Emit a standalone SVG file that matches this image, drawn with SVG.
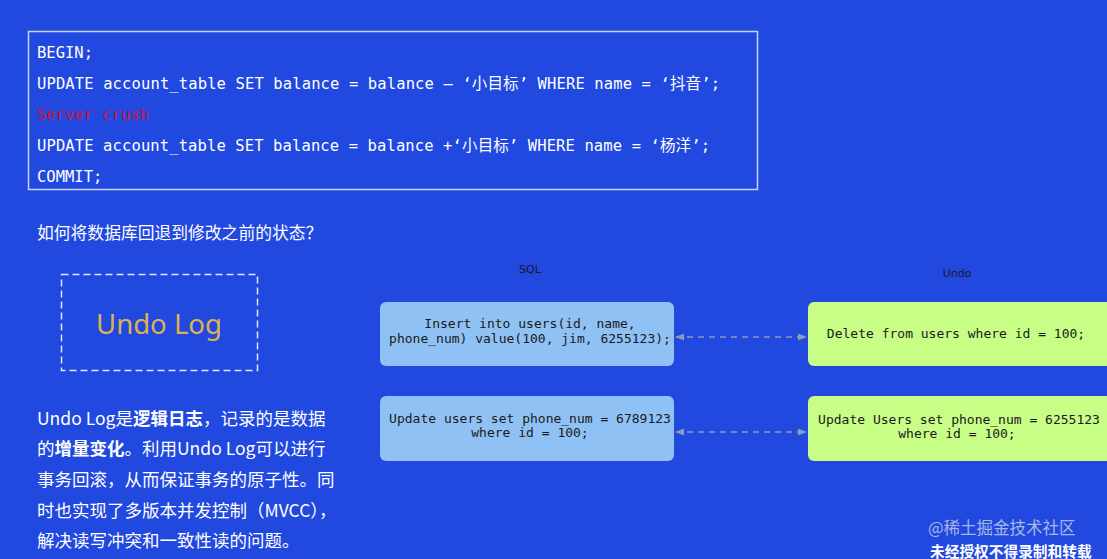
<svg xmlns="http://www.w3.org/2000/svg" width="1107" height="559" viewBox="0 0 1107 559">
<style>
.code{font-family:"DejaVu Sans Mono","Liberation Mono","Noto Sans CJK SC",monospace;font-size:15.5px;fill:#ffffff}
.cjk{font-family:"Noto Sans CJK SC","Noto Sans",sans-serif;fill:#ffffff}
.box{font-family:"DejaVu Sans Mono","Liberation Mono",monospace;font-size:13px;fill:#1a1a1a;text-anchor:middle}
.lbl{font-family:"DejaVu Sans","Liberation Sans",sans-serif;font-size:11px;fill:#1a1a1a;text-anchor:middle}
.sql{fill:#8fc1f4}
.undo{fill:#c8fd86}
.conn{stroke:#8e9ab8;stroke-width:1.3;stroke-dasharray:6,5;fill:none}
</style>
<defs>
<marker id="ah" viewBox="0 0 10 10" refX="9" refY="5" markerWidth="7" markerHeight="7" orient="auto-start-reverse">
<path d="M0,1 L10,5 L0,9 z" fill="#8e9ab8"/>
</marker>
</defs>
<rect x="0" y="0" width="1107" height="559" fill="#2149e0"/>

<g id="code-block">
<rect x="28.5" y="31.5" width="729" height="158" fill="none" stroke="#c9d4f2" stroke-width="1.5"/>
<text class="code" x="37" y="58">BEGIN;</text>
<text class="code" x="37" y="89" textLength="683" lengthAdjust="spacing">UPDATE account_table SET balance = balance – ‘小目标’ WHERE name = ‘抖音’;</text>
<text class="code" x="37" y="120" style="fill:#c8143c">Server crush</text>
<text class="code" x="37" y="151" textLength="673" lengthAdjust="spacing">UPDATE account_table SET balance = balance +‘小目标’ WHERE name = ‘杨洋’;</text>
<text class="code" x="37" y="182">COMMIT;</text>
</g>

<g id="question">
<text class="cjk" x="37" y="239" font-size="16.8">如何将数据库回退到修改之前的状态？</text>
</g>

<g id="undo-log-box">
<rect x="61.5" y="274.5" width="196" height="96" fill="none" stroke="#dfe6f8" stroke-width="1.5" stroke-dasharray="7,4"/>
<text x="159" y="334" font-family="Noto Sans, Liberation Sans, sans-serif" font-size="27.5" fill="#deb24e" text-anchor="middle">Undo Log</text>
</g>

<g id="description" class="cjk" font-size="17.5">
<text class="cjk" x="37" y="425">Undo Log是<tspan font-weight="bold">逻辑日志</tspan>，记录的是数据</text>
<text class="cjk" x="37" y="455">的<tspan font-weight="bold">增量变化</tspan>。利用Undo Log可以进行</text>
<text class="cjk" x="37" y="486">事务回滚，从而保证事务的原子性。同</text>
<text class="cjk" x="37" y="517">时也实现了多版本并发控制（MVCC），</text>
<text class="cjk" x="37" y="547">解决读写冲突和一致性读的问题。</text>
</g>

<g id="label-sql"><text class="lbl" x="530" y="273">SQL</text></g>
<g id="label-undo"><text class="lbl" x="957" y="277">Undo</text></g>

<g id="sql-insert">
<rect class="sql" x="380" y="302" width="294" height="64" rx="6"/>
<text class="box" x="530" y="328">Insert into users(id, name,</text>
<text class="box" x="530" y="343">phone_num) value(100, jim, 6255123);</text>
</g>
<g id="sql-update">
<rect class="sql" x="380" y="396" width="294" height="65" rx="6"/>
<text class="box" x="530" y="423">Update users set phone_num = 6789123</text>
<text class="box" x="530" y="437">where id = 100;</text>
</g>
<g id="undo-delete">
<rect class="undo" x="808" y="302" width="320" height="64" rx="6"/>
<text class="box" x="956" y="338">Delete from users where id = 100;</text>
</g>
<g id="undo-update">
<rect class="undo" x="808" y="396" width="320" height="65" rx="6"/>
<text class="box" x="959" y="424">Update Users set phone_num = 6255123</text>
<text class="box" x="957" y="438">where id = 100;</text>
</g>

<g id="connectors">
<line class="conn" x1="676" y1="337" x2="806" y2="337" marker-start="url(#ah)" marker-end="url(#ah)"/>
<line class="conn" x1="676" y1="432" x2="806" y2="432" marker-start="url(#ah)" marker-end="url(#ah)"/>
</g>

<g id="watermark">
<text x="928" y="534" font-family="Noto Sans CJK SC, sans-serif" font-size="16.5" fill="#a9b6e6">@稀土掘金技术社区</text>
<text x="930" y="557" font-family="Noto Sans CJK SC, sans-serif" font-size="14.7" font-weight="bold" fill="#ffffff">未经授权不得录制和转载</text>
</g>
</svg>
